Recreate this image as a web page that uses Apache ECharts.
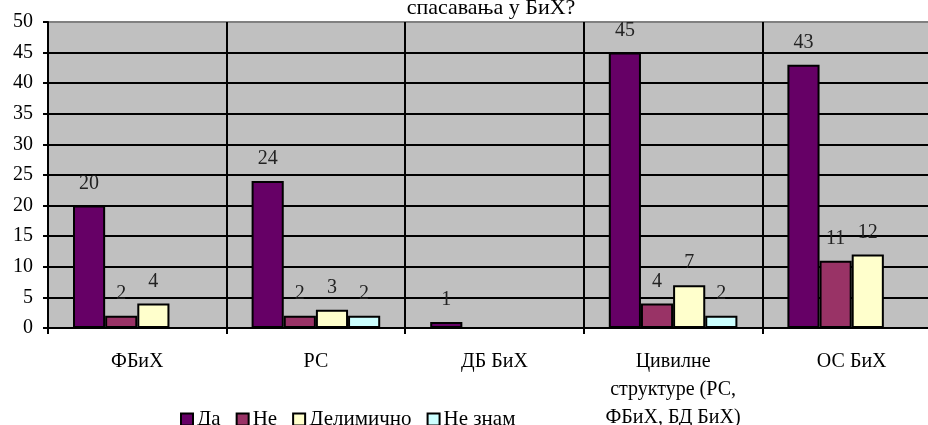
<!DOCTYPE html>
<html><head><meta charset="utf-8">
<script src="https://cdn.jsdelivr.net/npm/echarts@6/dist/echarts.min.js"></script>
<style>html,body{margin:0;padding:0;background:#fff}#c{width:928px;height:425px}</style>
</head><body><div id="c"></div>
<script>
const categories = ['ФБиХ', 'РС', 'ДБ БиХ', 'Цивилне\nструктуре (РС,\nФБиХ, БД БиХ)', 'ОС БиХ'];
const seriesNames = ['Да', 'Не', 'Делимично', 'Не знам'];
const da = [20, 24, 1, 45, 43];
const ne = [2, 2, null, 4, 11];
const delimicno = [4, 3, null, 7, 12];
const neZnam = [null, 2, null, 2, null];
const yTicks = [0, 5, 10, 15, 20, 25, 30, 35, 40, 45, 50];
const titleText = 'спасавања у БиХ?';

const colors = ['#660066', '#993366', '#FFFFCC', '#CCFFFF'];
const font = '"Liberation Serif", "Times New Roman", serif';
const values = [da, ne, delimicno, neZnam];

const chart = echarts.init(document.getElementById('c'));
chart.setOption({
  animation: false,
  backgroundColor: '#fff',
  title: { text: titleText, left: 486, textAlign: 'center', top: -8,
    textStyle: { fontFamily: font, fontSize: 22, fontWeight: 'normal', color: '#000' } },
  legend: {
    data: seriesNames, left: 180, top: 409, padding: 0, itemWidth: 12, itemHeight: 12, itemGap: 15,
    icon: 'rect',
    itemStyle: { borderColor: '#000', borderWidth: 2 },
    textStyle: { fontFamily: font, fontSize: 21, color: '#000', padding: [0, 0, 0, -1] }
  },
  grid: { left: 48, right: -13, top: 22, bottom: 97, outerBoundsMode: 'none', containLabel: false,
    show: true, backgroundColor: '#C0C0C0', borderWidth: 0 },
  xAxis: {
    type: 'category', data: categories,
    axisLine: { lineStyle: { color: '#000', width: 2 } },
    axisTick: { show: true, length: 6, lineStyle: { color: '#000', width: 2 } },
    splitLine: { show: true, lineStyle: { color: '#000', width: 2 } },
    axisLabel: { fontFamily: font, fontSize: 20, color: '#000', margin: 20, lineHeight: 28, interval: 0 }
  },
  yAxis: {
    type: 'value', min: yTicks[0], max: yTicks[yTicks.length - 1], interval: 5,
    axisLine: { show: true, lineStyle: { color: '#000', width: 2 } },
    axisTick: { show: true, length: 5, lineStyle: { color: '#000', width: 2 } },
    splitLine: { show: true, lineStyle: { color: ['#000','#000','#000','#000','#000','#000','#000','#000','#000','#000','#808080'], width: 2 } },
    axisLabel: { fontFamily: font, fontSize: 20, color: '#000', margin: 15 }
  },
  series: seriesNames.map((n, i) => ({
    name: n, type: 'bar', data: values[i],
    barGap: '0%', barCategoryGap: '28%',
    itemStyle: { color: colors[i], borderColor: '#000', borderWidth: 2 },
    label: { show: true, position: 'top', distance: 12, fontFamily: font, fontSize: 20, color: '#222' }
  }))
});
</script></body></html>
